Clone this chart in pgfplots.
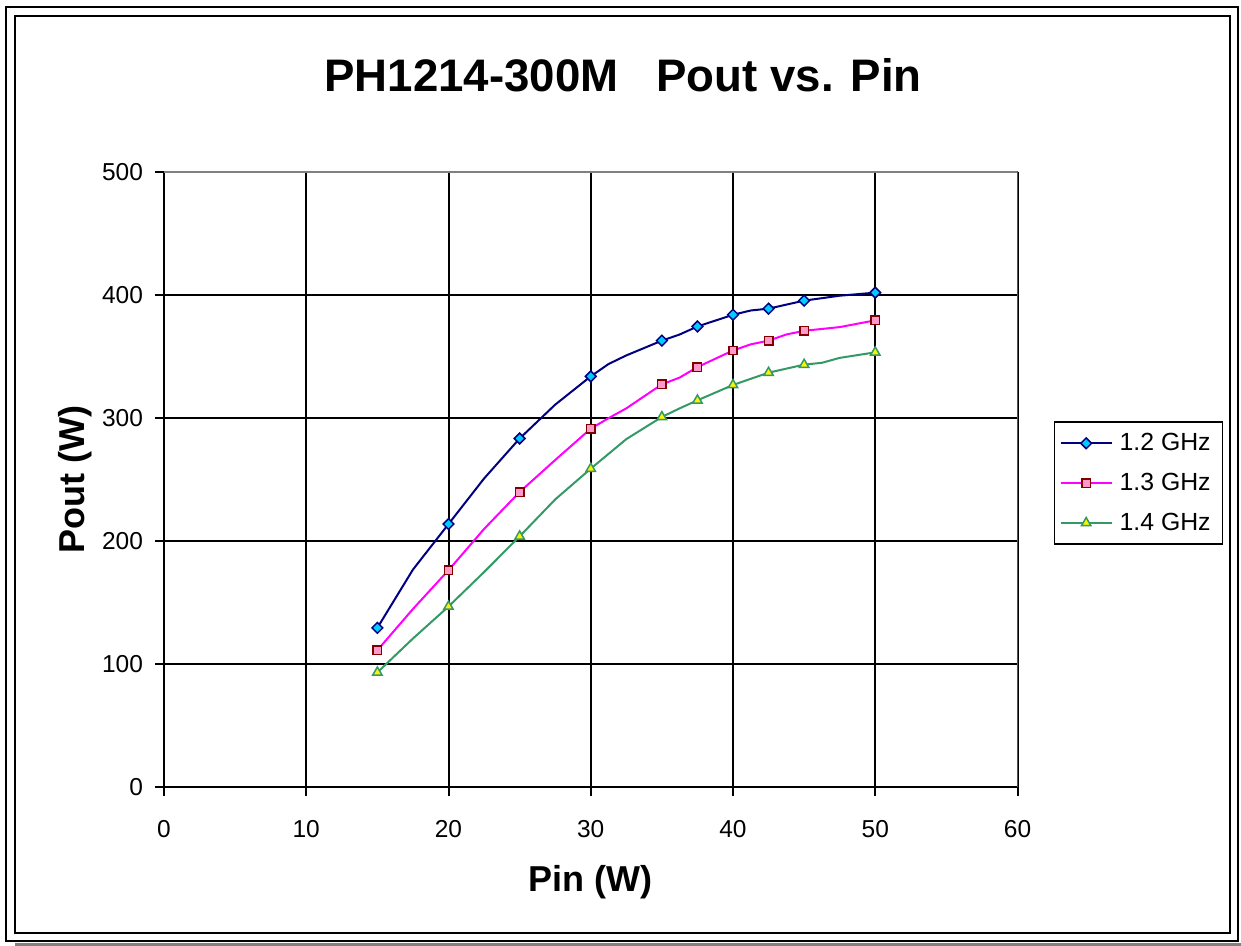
\documentclass[border=0pt]{standalone}
\usepackage{fontspec}
\setmainfont{Liberation Sans}
\usepackage{pgfplots}
\pgfplotsset{compat=1.18}

\definecolor{navyline}{RGB}{0,0,128}
\definecolor{cyanfill}{RGB}{0,204,255}
\definecolor{pinkfill}{RGB}{255,153,204}
\definecolor{darkred}{RGB}{128,0,0}
\definecolor{seagreen}{RGB}{51,153,102}
\definecolor{plotgray}{RGB}{128,128,128}
\definecolor{puremagenta}{RGB}{255,0,255}

\begin{document}
\begin{tikzpicture}
\path[use as bounding box] (0,0) rectangle (620.5pt,473pt);
% frames
\fill[black!50] (7.5pt,0pt) rectangle (620.5pt,1.5pt);
\draw[line width=1.25pt] (3pt,2.5pt) rectangle (619pt,469.5pt);
\draw[line width=1pt] (7.5pt,6.5pt) rectangle (615pt,465pt);
\node[font=\bfseries\fontsize{22.8}{26}\selectfont] at (311.5pt,435.5pt) {PH1214-300M\ \ \ Pout vs. Pin};

\begin{axis}[
at={(82pt,79.25pt)}, anchor=south west,
scale only axis,
width=426.75pt, height=307.75pt,
xmin=0, xmax=60, ymin=0, ymax=500,
xtick={0,10,...,60}, ytick={0,100,...,500},
axis lines=left,
axis line style={-, line width=1pt, black},
tick align=outside,
major tick length=4.5pt,
tick style={line width=1pt, black},
grid=major,
major grid style={line width=1pt, black},
/pgf/number format/assume math mode=true,
tick label style={font=\fontsize{12.25}{14}\selectfont},
xticklabel style={yshift=-8.5pt},
yticklabel style={xshift=-2.5pt},
xlabel={Pin (W)}, ylabel={Pout (W)},
label style={font=\bfseries\fontsize{18}{21}\selectfont},
xlabel style={at={(axis description cs:0.5,-0.1535)}, anchor=center},
ylabel style={at={(axis description cs:-0.1043,0.5)}, anchor=center},
legend style={at={(rel axis cs:1.0427,0.5948)}, anchor=north west,
  draw=black, line width=0.75pt, font=\fontsize{12.4}{14}\selectfont,
  row sep=5.75pt, inner xsep=2.5pt, inner ysep=3.5pt,
  nodes={inner xsep=3.5pt}},
legend cell align=left,
legend image code/.code={\draw[mark repeat=2,mark phase=2] plot coordinates {(0pt,0pt) (12.75pt,0pt) (25.5pt,0pt)};},
]
% lines
\addplot[navyline, line width=1pt, forget plot] coordinates {
(15,129.7) (17.5,177) (20,214) (22.5,251) (25,283.5) (27.5,311) (30,334)
(31.25,344) (32.5,351) (35,363) (36.25,368) (37.5,374.5) (40,384)
(41.25,387.5) (42.5,389) (45,395.5) (47.5,399.5) (50,402)};
\addplot[puremagenta, line width=1pt, forget plot] coordinates {
(15,111.5) (17.5,145) (20,176.5) (22.5,210) (25,240) (27.5,266) (30,291.5)
(31.25,300) (32.5,308) (35,327.5) (36.25,333) (37.5,341.5) (40,355)
(41.25,360) (42.5,363) (43.75,368) (45,371) (47.5,374) (50,379.5)};
\addplot[seagreen, line width=1pt, forget plot] coordinates {
(15,93.5) (17.5,121) (20,147) (22.5,175) (25,204) (27.5,234) (30,259)
(32.5,283) (35,301) (36.25,308) (37.5,314.5) (40,327) (42.5,337)
(45,343.5) (46.25,345) (47.5,349) (50,353.5)};
% markers
\addplot[only marks, forget plot, mark=square*, mark size=1.9pt,
  mark options={rotate=45, draw=navyline, fill=cyanfill, line width=0.75pt}] coordinates {
(15,129.7) (20,214) (25,283.5) (30,334) (35,363) (37.5,374.5) (40,384)
(42.5,389) (45,395.5) (50,402)};
\addplot[only marks, forget plot, mark=square*, mark size=2.1pt,
  mark options={draw=darkred, fill=pinkfill, line width=0.75pt}] coordinates {
(15,111.5) (20,176.5) (25,240) (30,291.5) (35,327.5) (37.5,341.5) (40,355)
(42.5,363) (45,371) (50,379.5)};
\addplot[only marks, forget plot, mark=triangle*, mark size=2.7pt,
  mark options={draw=seagreen, fill=yellow, line width=0.75pt}] coordinates {
(15,93.5) (20,147) (25,204) (30,259) (35,301) (37.5,314.5) (40,327)
(42.5,337) (45,343.5) (50,353.5)};
% legend
\addlegendimage{navyline, line width=1pt, mark=square*, mark size=1.9pt,
  mark options={rotate=45, draw=navyline, fill=cyanfill, line width=0.75pt}}
\addlegendentry{1.2 GHz}
\addlegendimage{puremagenta, line width=1pt, mark=square*, mark size=2.1pt,
  mark options={draw=darkred, fill=pinkfill, line width=0.75pt}}
\addlegendentry{1.3 GHz}
\addlegendimage{seagreen, line width=1pt, mark=triangle*, mark size=2.7pt,
  mark options={draw=seagreen, fill=yellow, line width=0.75pt}}
\addlegendentry{1.4 GHz}
% plot area border (gray top and right)
\draw[plotgray, line width=1pt] (rel axis cs:0,1) -- (rel axis cs:1,1) -- (rel axis cs:1,0);
\end{axis}
\end{tikzpicture}
\end{document}
